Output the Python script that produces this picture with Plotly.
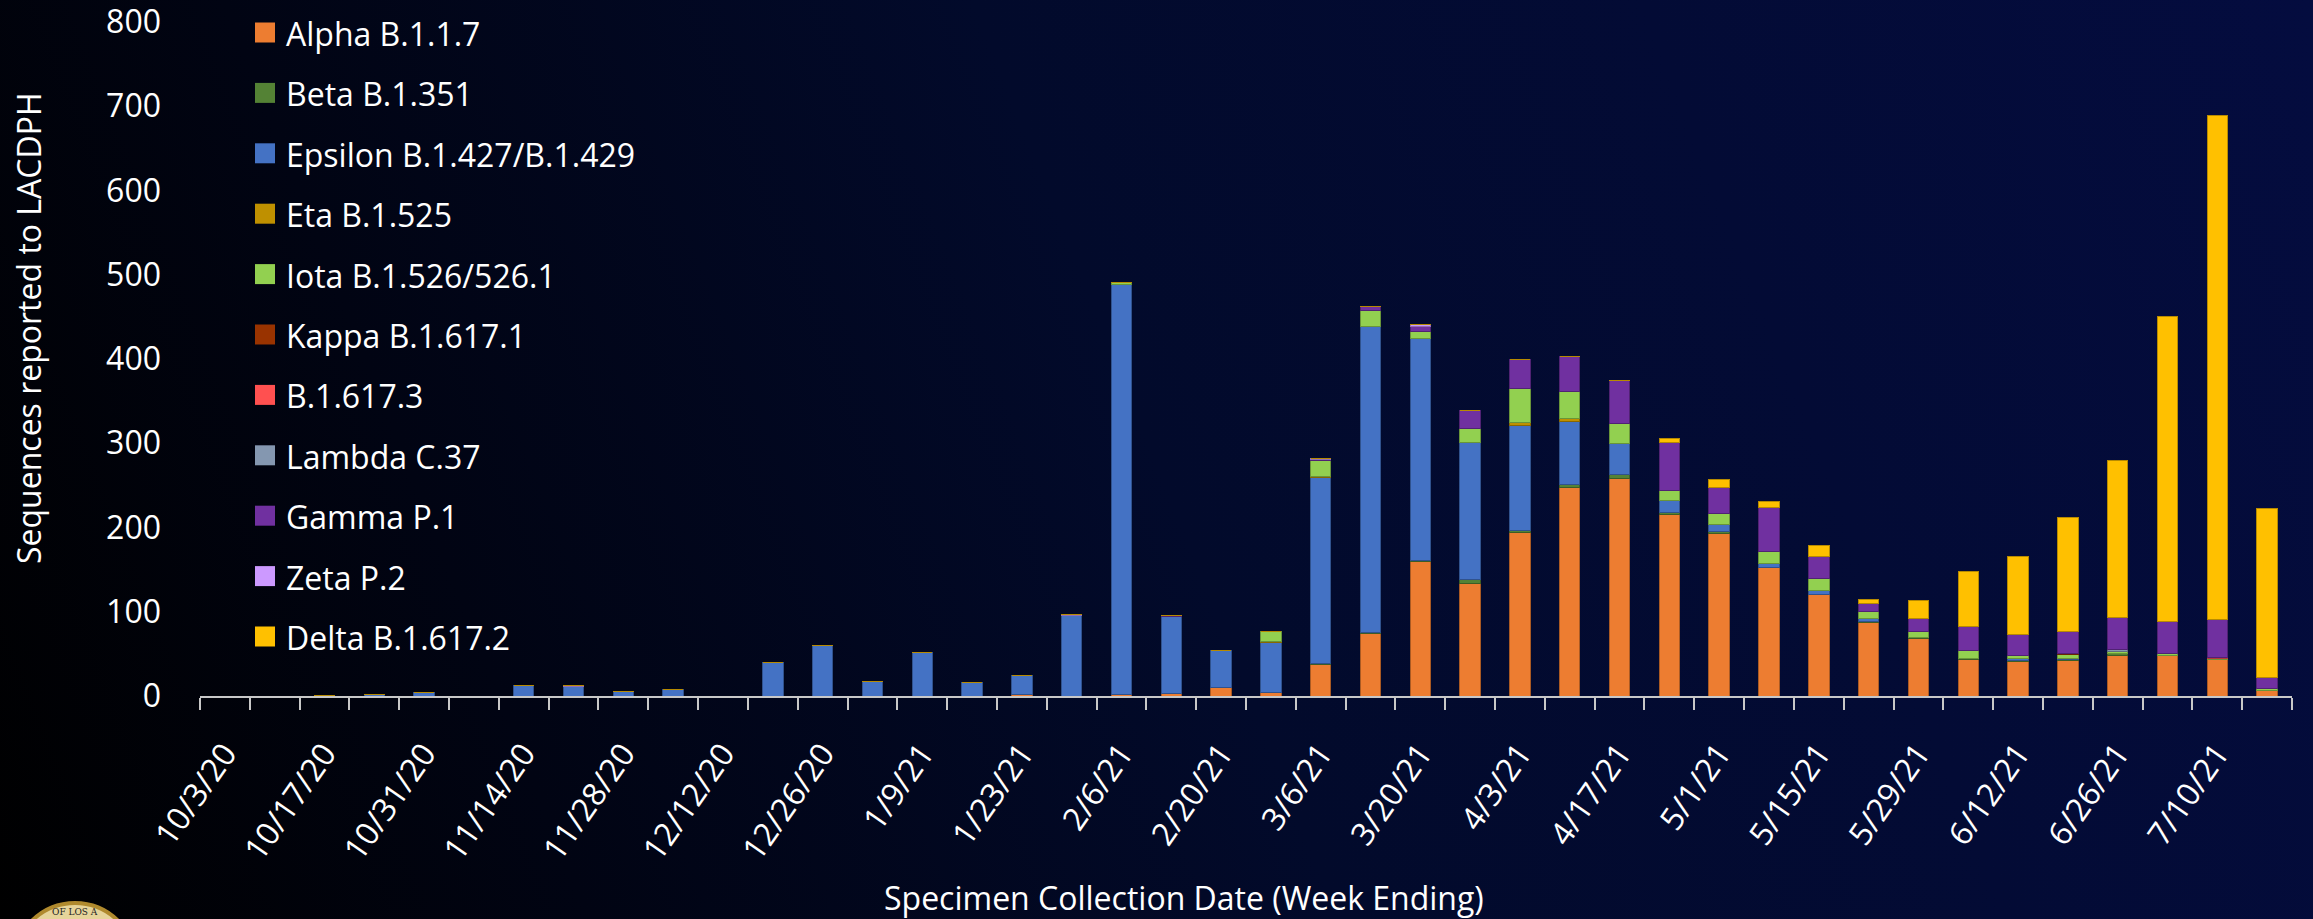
import base64
import plotly.graph_objects as go

# ---------------- data ----------------
weeks = ["10/3/20", "10/10/20", "10/17/20", "10/24/20", "10/31/20", "11/7/20", "11/14/20",
         "11/21/20", "11/28/20", "12/5/20", "12/12/20", "12/19/20", "12/26/20", "1/2/21",
         "1/9/21", "1/16/21", "1/23/21", "1/30/21", "2/6/21", "2/13/21", "2/20/21",
         "2/27/21", "3/6/21", "3/13/21", "3/20/21", "3/27/21", "4/3/21", "4/10/21",
         "4/17/21", "4/24/21", "5/1/21", "5/8/21", "5/15/21", "5/22/21", "5/29/21",
         "6/5/21", "6/12/21", "6/19/21", "6/26/21", "7/3/21", "7/10/21", "7/17/21"]

alpha = [0, 0, 0, 0, 0, 0, 0, 0, 0, 0, 0, 0, 0, 0, 0, 0, 2, 0, 2, 3,
         10, 4, 37, 74, 160, 133, 194, 247, 258, 216, 193, 152, 120, 87, 68, 43, 41, 42, 48, 48,
         43, 6]
beta = [0, 0, 0, 0, 0, 0, 0, 0, 0, 0, 0, 0, 0, 0, 0, 0, 0, 0, 0, 0,
        0, 0, 1, 1, 1, 5, 2, 4, 5, 2, 2, 1, 1, 1, 1, 1, 1, 1, 2, 0,
        0, 1]
epsilon = [0, 0, 1, 2, 4, 0, 12, 11, 5, 8, 0, 40, 60, 17, 52, 16, 22, 96, 487, 91,
           44, 60, 221, 363, 263, 163, 125, 75, 37, 14, 8, 4, 4, 4, 0, 0, 2, 2, 0, 0,
           0, 0]
eta = [0, 0, 0, 0, 0, 0, 0, 0, 0, 0, 0, 0, 0, 0, 0, 0, 0, 0, 0, 0,
       0, 1, 1, 0, 0, 0, 4, 3, 0, 0, 0, 0, 0, 0, 1, 0, 0, 0, 0, 0,
       0, 0]
iota = [0, 0, 0, 0, 0, 0, 0, 0, 0, 0, 0, 0, 0, 0, 0, 0, 0, 0, 2, 0,
        0, 11, 20, 19, 9, 16, 40, 33, 23, 12, 14, 14, 15, 8, 7, 10, 4, 4, 3, 2,
        1, 2]
kappa = [0, 0, 0, 0, 0, 0, 0, 0, 0, 0, 0, 0, 0, 0, 0, 0, 0, 0, 0, 0,
         0, 0, 0, 0, 0, 0, 0, 0, 1, 0, 0, 0, 0, 0, 0, 0, 0, 1, 0, 1,
         0, 0]
b16173 = [0, 0, 0, 0, 0, 0, 0, 0, 0, 0, 0, 0, 0, 0, 0, 0, 0, 0, 0, 0,
          0, 0, 0, 0, 0, 0, 0, 0, 0, 0, 0, 0, 0, 0, 0, 0, 0, 0, 0, 0,
          2, 0]
lambda_ = [0, 0, 0, 0, 0, 0, 0, 0, 0, 0, 0, 0, 0, 0, 0, 0, 0, 0, 0, 0,
           0, 0, 0, 0, 0, 0, 0, 0, 0, 0, 0, 0, 0, 0, 0, 0, 0, 0, 2, 0,
           0, 0]
gamma = [0, 0, 0, 0, 0, 0, 0, 0, 0, 0, 0, 0, 0, 0, 0, 0, 0, 0, 0, 2,
         0, 0, 1, 5, 5, 22, 34, 41, 50, 57, 30, 53, 26, 10, 15, 29, 25, 27, 38, 38,
         45, 13]
zeta = [0, 0, 0, 0, 0, 0, 0, 1, 0, 0, 0, 0, 0, 0, 0, 0, 0, 1, 0, 0,
        0, 0, 1, 0, 3, 0, 0, 0, 0, 0, 0, 0, 0, 0, 0, 0, 0, 0, 0, 0,
        0, 0]
delta = [0, 0, 0, 0, 0, 0, 0, 0, 0, 0, 0, 0, 0, 0, 0, 0, 0, 0, 0, 0,
         0, 0, 0, 0, 0, 0, 0, 0, 0, 5, 10, 7, 13, 5, 21, 65, 93, 135, 187, 362,
         598, 200]

series_names = ["Alpha B.1.1.7", "Beta B.1.351", "Epsilon B.1.427/B.1.429", "Eta B.1.525",
                "Iota B.1.526/526.1", "Kappa B.1.617.1", "B.1.617.3", "Lambda C.37",
                "Gamma P.1", "Zeta P.2", "Delta B.1.617.2"]
series_values = [alpha, beta, epsilon, eta, iota, kappa, b16173, lambda_, gamma, zeta, delta]
series_colors = ["#ED7D31", "#548235", "#4472C4", "#BF9000", "#92D050", "#993300",
                 "#FF5050", "#8497B0", "#7030A0", "#CC99FF", "#FFC000"]

y_ticks = [0, 100, 200, 300, 400, 500, 600, 700, 800]
tick_idx = list(range(0, len(weeks), 2))
tick_labels = [weeks[i] for i in tick_idx]

# ---------------- layout geometry (pixels) ----------------
W, H = 2313, 919
L, R, T, B = 200, 21, 22, 223
PW, PH = W - L - R, H - T - B


def px(x):
    return (x - L) / PW


def py(y):
    return (H - B - y) / PH


def darker(hexcol, f=0.72):
    h = hexcol.lstrip("#")
    r, g, b = (int(h[i:i + 2], 16) for i in (0, 2, 4))
    return "rgb(%d,%d,%d)" % (r * f, g * f, b * f)


FONT = "Open Sans, Noto Sans, sans-serif"

fig = go.Figure()
xs = list(range(len(weeks)))
for name, vals, col in zip(series_names, series_values, series_colors):
    fig.add_trace(go.Bar(
        x=xs, y=vals, name=name, width=0.41,
        marker=dict(color=col, line=dict(color=darker(col), width=1)),
        customdata=weeks, hovertemplate="%{customdata}<br>" + name + ": %{y}<extra></extra>",
        showlegend=False,
    ))

# background gradient
svg = ('<svg xmlns="http://www.w3.org/2000/svg" width="%d" height="%d">'
       '<defs><linearGradient id="g" gradientUnits="userSpaceOnUse" x1="0" y1="%d" x2="%d" y2="0">'
       '<stop offset="0" stop-color="#000000"/>'
       '<stop offset="0.22" stop-color="#010413"/>'
       '<stop offset="0.5" stop-color="#020a2b"/>'
       '<stop offset="1" stop-color="#040c3f"/>'
       '</linearGradient></defs><rect width="100%%" height="100%%" fill="url(#g)"/></svg>') % (W, H, H, W)
src = "data:image/svg+xml;base64," + base64.b64encode(svg.encode()).decode()

images = [dict(source=src, xref="paper", yref="paper", x=px(0), y=py(0),
               sizex=W / PW, sizey=H / PH, xanchor="left", yanchor="top",
               sizing="stretch", layer="below")]

shapes = []
annotations = []
# custom legend
leg_top = 32.5
leg_step = 60.4
for i, (name, col) in enumerate(zip(series_names, series_colors)):
    yc = leg_top + i * leg_step
    shapes.append(dict(type="rect", xref="paper", yref="paper",
                       x0=px(255), x1=px(275), y0=py(yc - 10), y1=py(yc + 10),
                       fillcolor=col, line=dict(width=0)))
    annotations.append(dict(text=name, xref="paper", yref="paper", x=px(284), y=py(yc + 1),
                            xanchor="left", yanchor="middle", showarrow=False,
                            font=dict(family=FONT, size=32, color="#ffffff")))

# axis titles
annotations.append(dict(text="Sequences reported to LACDPH", xref="paper", yref="paper",
                        x=px(28), y=py(328), textangle=-90, showarrow=False,
                        xanchor="center", yanchor="middle",
                        font=dict(family=FONT, size=32, color="#ffffff")))
annotations.append(dict(text="Specimen Collection Date (Week Ending)", xref="paper", yref="paper",
                        x=px(1184), y=py(897), showarrow=False,
                        xanchor="center", yanchor="middle",
                        font=dict(family=FONT, size=32, color="#ffffff")))

# county seal (partially visible, bottom-left)
shapes.append(dict(type="circle", xref="paper", yref="paper",
                   x0=px(14), x1=px(136), y0=py(903), y1=py(1025),
                   fillcolor="#e6d49a", line=dict(color="#b08a2e", width=4), layer="above"))
shapes.append(dict(type="circle", xref="paper", yref="paper",
                   x0=px(30), x1=px(120), y0=py(921), y1=py(1011),
                   fillcolor="#f4f1e6", line=dict(color="#b08a2e", width=2), layer="above"))
annotations.append(dict(text="OF LOS A", xref="paper", yref="paper", x=px(75), y=py(912),
                        showarrow=False, xanchor="center", yanchor="middle",
                        font=dict(family="DejaVu Serif, serif", size=9, color="#222222")))

fig.update_layout(
    width=W, height=H, autosize=False,
    margin=dict(l=L, r=R, t=T, b=B, pad=0, autoexpand=False),
    barmode="stack",
    paper_bgcolor="#020a2b",
    plot_bgcolor="rgba(0,0,0,0)",
    font=dict(family=FONT, size=32, color="#ffffff"),
    showlegend=False,
    images=images,
    shapes=shapes,
    annotations=annotations,
    xaxis=dict(
        range=[-0.5, len(weeks) - 0.5], automargin=False,
        tickmode="array", tickvals=tick_idx, ticktext=tick_labels,
        tickangle=-55, ticks="", ticklabelstandoff=24, ticklabeloverflow="allow",
        tickfont=dict(family=FONT, size=32, color="#ffffff"),
        showline=True, linecolor="#c8c8c8", linewidth=2,
        showgrid=False, zeroline=False,
        minor=dict(ticks="outside", ticklen=12, tickwidth=2, tickcolor="#c8c8c8",
                   tickmode="linear", tick0=-0.5, dtick=1, showgrid=False),
    ),
    yaxis=dict(
        range=[0, 800], tickmode="array", tickvals=y_ticks, automargin=False,
        ticks="", ticklabelstandoff=38, ticklabeloverflow="allow",
        tickfont=dict(family=FONT, size=32, color="#ffffff"),
        showline=False, showgrid=False, zeroline=False,
    ),
)

fig.write_html("out.html", config={"displayModeBar": False},
               post_script="document.body.style.margin='0';document.body.style.overflow='hidden';"
                           "document.body.style.background='#000000';")
